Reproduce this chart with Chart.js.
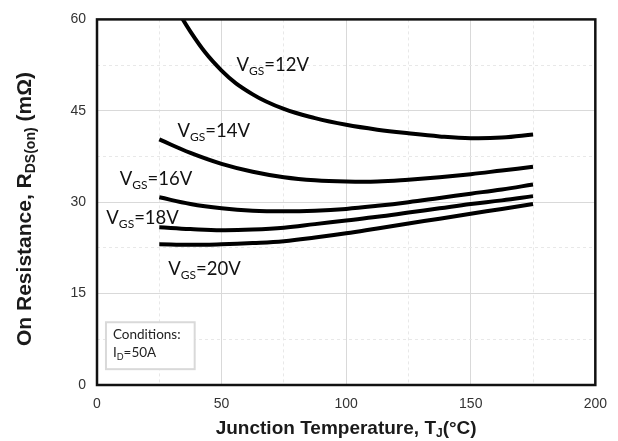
<!DOCTYPE html>
<html>
<head>
<meta charset="utf-8">
<script src="https://cdn.jsdelivr.net/npm/chart.js@4/dist/chart.umd.min.js"></script>
<style>
  html, body { margin: 0; padding: 0; background: #fff; }
</style>
</head>
<body>
<canvas id="myChart" width="618" height="441"></canvas>
<script>
// junction temperature (°C) sample points shared by all curves
var temps = [25, 37.5, 50, 62.5, 75, 87.5, 100, 112.5, 125, 137.5, 150, 162.5, 175];

// on resistance (mOhm)
var vgs12 = [67, 58.0, 51.6, 47.7, 45.3, 43.8, 42.7, 41.9, 41.3, 40.8, 40.5, 40.6, 41.1];
var vgs14 = [40.3, 38.1, 36.3, 35.0, 34.1, 33.6, 33.4, 33.4, 33.7, 34.1, 34.6, 35.2, 35.8];
var vgs16 = [30.8, 29.7, 29.0, 28.6, 28.5, 28.6, 28.9, 29.4, 30.0, 30.7, 31.4, 32.1, 32.9];
var vgs18 = [25.9, 25.6, 25.4, 25.5, 25.8, 26.4, 27.0, 27.6, 28.3, 29.0, 29.7, 30.3, 31.0];
var vgs20 = [23.1, 23.0, 23.1, 23.3, 23.6, 24.2, 24.9, 25.7, 26.5, 27.3, 28.1, 28.9, 29.7];

var seriesNames = ['12V', '14V', '16V', '18V', '20V'];
var seriesValues = [vgs12, vgs14, vgs16, vgs18, vgs20];

var xTicks = [0, 50, 100, 150, 200];
var yTicks = [0, 15, 30, 45, 60];

// where each curve label sits, in data units (left edge, vertical middle)
var labelSpots = [[56, 52.6], [32.3, 41.9], [9.1, 33.9], [3.75, 27.6], [28.6, 19.2]];

function toPoints(vals) {
    return vals.map(function (v, i) { return { x: temps[i], y: v }; });
}

// draws a run of text pieces, some of them subscript
function drawRuns(ctx, runs, x, y, align) {
    var total = 0;
    runs.forEach(function (r) { ctx.font = r.font; total += ctx.measureText(r.text).width; });
    var cx = align === 'center' ? x - total / 2 : x;
    runs.forEach(function (r) {
        ctx.font = r.font;
        ctx.fillText(r.text, cx, y + (r.dy || 0));
        cx += ctx.measureText(r.text).width;
    });
}

var bigFont = '18.5px Lato';
var subFont = '12px Lato';

var decorPlugin = {
    id: 'decor',
    afterDatasetsDraw: function (chart) {
        var ctx = chart.ctx, a = chart.chartArea;
        var xs = chart.scales.x, ys = chart.scales.y;
        ctx.save();

        // frame around plot
        ctx.strokeStyle = '#111';
        ctx.lineWidth = 2.5;
        ctx.strokeRect(a.left, a.top, a.right - a.left, a.bottom - a.top);

        // curve labels
        ctx.fillStyle = '#111';
        ctx.textBaseline = 'alphabetic';
        ctx.textAlign = 'left';
        seriesNames.forEach(function (n, i) {
            var px = xs.getPixelForValue(labelSpots[i][0]);
            var py = ys.getPixelForValue(labelSpots[i][1]) + 7;
            drawRuns(ctx, [
                { text: 'V', font: bigFont },
                { text: 'GS', font: subFont, dy: 4 },
                { text: '=' + n, font: bigFont }
            ], px, py, 'left');
        });

        // conditions box
        var bx1 = xs.getPixelForValue(3.6), bx2 = xs.getPixelForValue(39.2);
        var by1 = ys.getPixelForValue(10.3), by2 = ys.getPixelForValue(2.6);
        ctx.fillStyle = '#fff';
        ctx.fillRect(bx1, by1, bx2 - bx1, by2 - by1);
        ctx.strokeStyle = '#d9d9d9';
        ctx.lineWidth = 2;
        ctx.strokeRect(bx1, by1, bx2 - bx1, by2 - by1);
        ctx.fillStyle = '#222';
        ctx.font = '13.5px Lato';
        ctx.fillText('Conditions:', bx1 + 7, ys.getPixelForValue(8.3) + 5);
        drawRuns(ctx, [
            { text: 'I', font: '13.5px Lato' },
            { text: 'D', font: '9px Lato', dy: 3 },
            { text: '=50A', font: '13.5px Lato' }
        ], bx1 + 7, ys.getPixelForValue(5.4) + 5, 'left');

        // axis titles
        ctx.fillStyle = '#1a1a1a';
        drawRuns(ctx, [
            { text: 'Junction Temperature, T', font: 'bold 19px "Liberation Sans", Arial' },
            { text: 'J', font: 'bold 12px "Liberation Sans", Arial', dy: 3 },
            { text: '(°C)', font: 'bold 19px "Liberation Sans", Arial' }
        ], (a.left + a.right) / 2, 434, 'center');

        ctx.translate(31, 209);
        ctx.rotate(-Math.PI / 2);
        drawRuns(ctx, [
            { text: 'On Resistance, R', font: 'bold 21px "Liberation Sans", Arial' },
            { text: 'DS(on)', font: 'bold 14px "Liberation Sans", Arial', dy: 4 },
            { text: ' (mΩ)', font: 'bold 21px "Liberation Sans", Arial' }
        ], 0, 0, 'center');

        ctx.restore();
    }
};

var ctx = document.getElementById('myChart').getContext('2d');

var chart = new Chart(ctx, {
    type: 'line',
    data: {
        datasets: seriesValues.map(function (vals, i) {
            return {
                label: 'VGS=' + seriesNames[i],
                data: toPoints(vals),
                borderColor: '#000',
                borderWidth: 4,
                pointRadius: 0,
                fill: false,
                tension: 0.4
            };
        })
    },
    options: {
        responsive: false,
        animation: false,
        layout: { padding: { left: 0, right: 21, top: 17, bottom: 0 } },
        plugins: {
            legend: { display: false },
            title: { display: false },
            tooltip: { enabled: false }
        },
        scales: {
            x: {
                type: 'linear',
                min: xTicks[0],
                max: xTicks[xTicks.length - 1],
                afterFit: function (s) { s.height = 56; },
                ticks: {
                    stepSize: 25,
                    padding: 11,
                    maxRotation: 0,
                    color: '#333',
                    font: { family: '"Liberation Sans", Arial', size: 14 },
                    callback: function (v) { return xTicks.indexOf(v) >= 0 ? v : ''; }
                },
                grid: {
                    drawTicks: false,
                    color: function (c) { return c.tick && xTicks.indexOf(c.tick.value) >= 0 ? '#d9d9d9' : '#e8e8e8'; },
                    lineWidth: 1
                },
                border: {
                    display: false,
                    dash: function (c) { return c.tick && xTicks.indexOf(c.tick.value) >= 0 ? [] : [3, 3]; }
                }
            },
            y: {
                min: yTicks[0],
                max: yTicks[yTicks.length - 1],
                afterFit: function (s) { s.width = 97; },
                ticks: {
                    stepSize: 7.5,
                    padding: 11,
                    color: '#333',
                    font: { family: '"Liberation Sans", Arial', size: 14 },
                    callback: function (v) { return yTicks.indexOf(v) >= 0 ? v : ''; }
                },
                grid: {
                    drawTicks: false,
                    color: function (c) { return c.tick && yTicks.indexOf(c.tick.value) >= 0 ? '#d9d9d9' : '#e8e8e8'; },
                    lineWidth: 1
                },
                border: {
                    display: false,
                    dash: function (c) { return c.tick && yTicks.indexOf(c.tick.value) >= 0 ? [] : [3, 3]; }
                }
            }
        }
    },
    plugins: [decorPlugin]
});
</script>
</body>
</html>
